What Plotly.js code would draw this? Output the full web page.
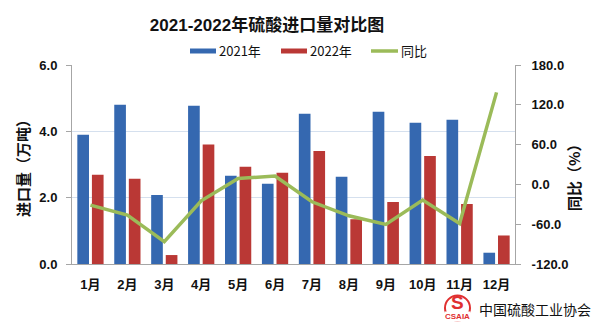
<!DOCTYPE html>
<html>
<head>
<meta charset="utf-8">
<script src="https://cdn.plot.ly/plotly-3.0.1.min.js"></script>
<style>html,body{margin:0;padding:0;background:#fff;}#chart{width:604px;height:328px;}</style>
</head>
<body>
<div id="chart"></div>
<script>
const months = ['1月','2月','3月','4月','5月','6月','7月','8月','9月','10月','11月','12月'];
const imports2021 = [3.90, 4.80, 2.08, 4.77, 2.66, 2.42, 4.53, 2.63, 4.59, 4.26, 4.35, 0.34];
const imports2022 = [2.69, 2.57, 0.27, 3.60, 2.93, 2.75, 3.41, 1.35, 1.87, 3.26, 1.81, 0.86];
const yoy = [-31.2, -46.3, -86.5, -24.7, 9.0, 12.5, -26.2, -47.3, -60.4, -23.7, -58.9, 138.7];
const leftTicks = [0, 2, 4, 6];
const leftTickText = ['0.0', '2.0', '4.0', '6.0'];
const rightTicks = [-120, -60, 0, 60, 120, 180];
const rightTickText = ['-120.0', '-60.0', '0.0', '60.0', '120.0', '180.0'];
const seriesNames = ['2021年', '2022年', '同比'];

const W = 604, H = 328, L = 72, R = 515, T = 65, B = 264;
const px = x => (x - L) / (R - L);
const py = y => (B - y) / (B - T);

const BLUE = '#3568B0', RED = '#BA3835', GREEN = '#9BBB59';
const tickFont = {family: 'Liberation Sans, Arial, sans-serif', size: 13, color: '#111', weight: 700};
const cjk = '"Noto Sans CJK SC", "Liberation Sans", sans-serif';

const traces = [
  {type: 'bar', x: months, y: imports2021, name: seriesNames[0], marker: {color: BLUE}, showlegend: false, hoverinfo: 'skip'},
  {type: 'bar', x: months, y: imports2022, name: seriesNames[1], marker: {color: RED}, showlegend: false, hoverinfo: 'skip'},
  {type: 'scatter', mode: 'lines', x: months, y: yoy, yaxis: 'y2', name: seriesNames[2], line: {color: GREEN, width: 3.5}, showlegend: false, hoverinfo: 'skip'}
];

const legY = py(51);
const shapes = [
  {type: 'rect', xref: 'paper', yref: 'paper', x0: px(190), x1: px(216), y0: py(53.5), y1: py(48.5), fillcolor: BLUE, line: {width: 0}},
  {type: 'rect', xref: 'paper', yref: 'paper', x0: px(281), x1: px(307), y0: py(53.5), y1: py(48.5), fillcolor: RED, line: {width: 0}},
  {type: 'line', xref: 'paper', yref: 'paper', x0: px(371), x1: px(398), y0: legY, y1: legY, line: {color: GREEN, width: 3.5}},
  {type: 'circle', xref: 'paper', yref: 'paper', x0: px(445), x1: px(470), y0: py(320.5), y1: py(295.5), fillcolor: '#fff', line: {color: '#E03030', width: 2}}
];

const legFont = {family: cjk, size: 13, color: '#111'};
const annotations = [
  {xref: 'paper', yref: 'paper', x: px(217), y: legY, xanchor: 'left', yanchor: 'middle', text: seriesNames[0], showarrow: false, font: legFont},
  {xref: 'paper', yref: 'paper', x: px(308), y: legY, xanchor: 'left', yanchor: 'middle', text: seriesNames[1], showarrow: false, font: legFont},
  {xref: 'paper', yref: 'paper', x: px(399), y: legY, xanchor: 'left', yanchor: 'middle', text: seriesNames[2], showarrow: false, font: legFont},
  {xref: 'paper', yref: 'paper', x: px(457.5), y: py(302.5), xanchor: 'center', yanchor: 'middle', text: '<b>S</b>', showarrow: false, font: {family: 'Liberation Sans, Arial, sans-serif', size: 19, color: '#E03030'}},
  {xref: 'paper', yref: 'paper', x: px(457.5), y: py(316), xanchor: 'center', yanchor: 'middle', text: '<b>CSAIA</b>', showarrow: false, bgcolor: '#fff', borderpad: 0, font: {family: 'Liberation Sans, Arial, sans-serif', size: 8, color: '#E03030'}},
  {xref: 'paper', yref: 'paper', x: px(477), y: py(309), xanchor: 'left', yanchor: 'middle', text: '中国硫酸工业协会', showarrow: false, font: {family: cjk, size: 14, color: '#111'}},
  {xref: 'paper', yref: 'paper', x: px(573), y: py(174), xanchor: 'center', yanchor: 'middle', textangle: -90, text: '<b>同比（%）</b>', showarrow: false, font: {family: cjk, size: 15, color: '#111'}}
];

const layout = {
  width: W, height: H,
  margin: {l: L, r: W - R, t: T, b: H - B, pad: 0},
  paper_bgcolor: '#fff', plot_bgcolor: '#fff',
  title: {text: '<b>2021-2022年硫酸进口量对比图</b>', x: 267 / W, xanchor: 'center', y: 1 - 25 / H, yanchor: 'middle', xref: 'container', yref: 'container',
          font: {family: '"Liberation Sans", "Noto Sans CJK SC", sans-serif', size: 17, color: '#111'}},
  barmode: 'group', bargap: 0.21, bargroupgap: 0.2,
  showlegend: false,
  xaxis: {type: 'category', showline: true, linecolor: '#A6A6A6', linewidth: 1, ticks: '', showgrid: false,
          tickfont: {family: '"Liberation Sans", "Noto Sans CJK SC", sans-serif', size: 13, color: '#111', weight: 700}, ticklabelstandoff: 8, fixedrange: true},
  yaxis: {range: [0, 6], tickvals: leftTicks, ticktext: leftTickText, showline: true, linecolor: '#A6A6A6', linewidth: 1,
          ticks: 'outside', ticklen: 5, tickcolor: '#A6A6A6', showgrid: true, gridcolor: '#D5E0EE', gridwidth: 1, zeroline: false,
          tickfont: tickFont, ticklabelstandoff: 6,
          title: {text: '<b>进口量（万吨）</b>', standoff: 6, font: {family: cjk, size: 15, color: '#111'}}, fixedrange: true},
  yaxis2: {overlaying: 'y', side: 'right', range: [-120, 180], tickvals: rightTicks, ticktext: rightTickText, showline: true,
           linecolor: '#A6A6A6', linewidth: 1, ticks: 'outside', ticklen: 5, tickcolor: '#A6A6A6', showgrid: false, zeroline: false,
           tickfont: tickFont, ticklabelstandoff: 8, fixedrange: true},
  shapes: shapes,
  annotations: annotations
};

Plotly.newPlot('chart', traces, layout, {displayModeBar: false, staticPlot: true});
</script>
</body>
</html>
